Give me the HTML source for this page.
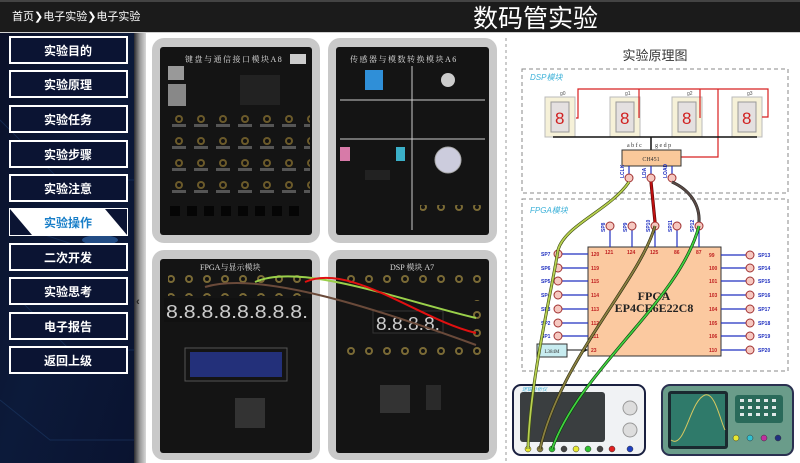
<!DOCTYPE html>
<html><head><meta charset="utf-8"><style>
html,body{margin:0;padding:0;width:800px;height:463px;overflow:hidden;background:#fff}
svg{display:block}
text{font-family:"Liberation Sans","Noto Sans CJK SC",sans-serif}
.serif{font-family:"Liberation Serif","Noto Serif CJK SC",serif}
</style></head><body>
<svg width="800" height="463" viewBox="0 0 800 463" xmlns="http://www.w3.org/2000/svg">
<defs>
<linearGradient id="side" x1="0" y1="0" x2="1" y2="1">
<stop offset="0" stop-color="#0a1028"/><stop offset="0.5" stop-color="#0c1a3a"/><stop offset="1" stop-color="#0a1330"/></linearGradient>
<linearGradient id="strip" x1="0" x2="1"><stop offset="0" stop-color="#2a2a2e"/><stop offset="0.5" stop-color="#9a9a9a"/><stop offset="1" stop-color="#d8d8d8"/></linearGradient>
<pattern id="jk" x="168" y="108" width="22" height="22" patternUnits="userSpaceOnUse"><circle cx="11" cy="11" r="4" fill="#6b5a2a"/><circle cx="11" cy="11" r="2" fill="#111"/><rect x="4" y="16" width="14" height="3" fill="#555"/></pattern>
<pattern id="jk2" width="18" height="18" patternUnits="userSpaceOnUse"><circle cx="9" cy="9" r="4" fill="#7a6a35"/><circle cx="9" cy="9" r="2" fill="#111"/></pattern>
</defs>

<!-- top bar -->
<rect x="0" y="0" width="800" height="32" fill="#1b1b1b"/>
<rect x="0" y="0" width="800" height="2" fill="#444"/>
<rect x="0" y="32" width="800" height="1" fill="#cfcfcf"/>
<text x="12" y="20" font-size="11" fill="#fff">首页❯电子实验❯电子实验</text>
<text x="473" y="27" font-size="25" fill="#fff">数码管实验</text>

<!-- sidebar -->
<rect x="0" y="33" width="134" height="430" fill="url(#side)"/>
<path d="M0 120 L60 180 L134 180 M20 300 L70 350 L134 350 M0 400 L50 440 L134 440 M30 230 L90 250" stroke="#1d3866" stroke-width="1" fill="none" opacity="0.6"/>
<ellipse cx="100" cy="240" rx="18" ry="5" fill="#3a7fd0" opacity="0.5"/>
<rect x="134" y="33" width="12" height="430" fill="url(#strip)"/>
<text x="136" y="305" font-size="11" fill="#222" font-weight="bold">‹</text>

<g fill="#0b1433" stroke="#fff" stroke-width="2">
<rect x="10" y="37" width="117" height="26"/>
<rect x="10" y="71" width="117" height="26"/>
<rect x="10" y="106" width="117" height="26"/>
<rect x="10" y="141" width="117" height="26"/>
<rect x="10" y="175" width="117" height="26"/>
<rect x="10" y="244" width="117" height="26"/>
<rect x="10" y="278" width="117" height="26"/>
<rect x="10" y="313" width="117" height="26"/>
<rect x="10" y="347" width="117" height="26"/>
</g>
<rect x="9" y="208" width="119" height="28" fill="#fff"/>
<path d="M10 209 L10 235 L32 235 Z" fill="#0b1433"/>
<path d="M105 209 L127 209 L127 235 Z" fill="#0b1433"/>
<g font-size="12" font-weight="bold" fill="#fff" text-anchor="middle">
<text x="68" y="55">实验目的</text>
<text x="68" y="89">实验原理</text>
<text x="68" y="124">实验任务</text>
<text x="68" y="159">实验步骤</text>
<text x="68" y="193">实验注意</text>
<text x="68" y="227" fill="#1a7fc8">实验操作</text>
<text x="68" y="262">二次开发</text>
<text x="68" y="296">实验思考</text>
<text x="68" y="331">电子报告</text>
<text x="68" y="365">返回上级</text>
</g>

<!-- photo panels -->
<g fill="#c9c9c9">
<rect x="152" y="38" width="168" height="205" rx="12"/>
<rect x="328" y="38" width="169" height="205" rx="12"/>
<rect x="152" y="250" width="168" height="210" rx="12"/>
<rect x="328" y="250" width="169" height="210" rx="12"/>
</g>
<g fill="#141414">
<rect x="160" y="47" width="152" height="188" rx="3"/>
<rect x="336" y="47" width="153" height="188" rx="3"/>
<rect x="160" y="259" width="152" height="194" rx="3"/>
<rect x="336" y="259" width="153" height="194" rx="3"/>
</g>
<!-- panel 1 -->
<text x="185" y="62" font-size="8" fill="#ddd" class="serif" letter-spacing="1.5">键盘与通信接口模块A8</text>
<rect x="290" y="54" width="16" height="10" fill="#ccc"/>
<rect x="168" y="66" width="16" height="14" fill="#999"/>
<rect x="168" y="84" width="18" height="22" fill="#888"/>
<rect x="240" y="75" width="40" height="30" fill="#222"/>
<rect x="168" y="108" width="142" height="92" fill="url(#jk)"/>
<g fill="#050505"><rect x="170" y="206" width="10" height="10"/><rect x="187" y="206" width="10" height="10"/><rect x="204" y="206" width="10" height="10"/><rect x="221" y="206" width="10" height="10"/><rect x="238" y="206" width="10" height="10"/><rect x="255" y="206" width="10" height="10"/><rect x="272" y="206" width="10" height="10"/><rect x="289" y="206" width="10" height="10"/></g>
<!-- panel 2 -->
<text x="350" y="62" font-size="8" fill="#ddd" class="serif" letter-spacing="1.5">传感器与模数转换模块A6</text>
<g stroke="#ccc" stroke-width="1"><line x1="340" y1="100" x2="485" y2="100"/><line x1="340" y1="139" x2="485" y2="139"/><line x1="412" y1="66" x2="412" y2="230"/></g>
<rect x="365" y="70" width="18" height="20" fill="#2f8fd8"/>
<circle cx="448" cy="80" r="7" fill="#ccc"/>
<rect x="340" y="147" width="10" height="14" fill="#d77aa8"/>
<rect x="396" y="147" width="9" height="14" fill="#3bb0c8"/>
<circle cx="448" cy="160" r="13" fill="#ccd" stroke="#aaa"/>
<rect x="365" y="170" width="25" height="10" fill="#222"/>
<rect x="420" y="205" width="65" height="8" fill="url(#jk2)"/>
<!-- panel 3 FPGA -->
<text x="200" y="270" font-size="8" fill="#ddd" class="serif">FPGA与显示模块</text>
<rect x="168" y="274" width="140" height="22" fill="url(#jk2)"/>
<rect x="164" y="298" width="148" height="24" fill="#111"/>
<text x="166" y="318" font-size="18" fill="#ccc" font-family="Liberation Mono,monospace" textLength="142" lengthAdjust="spacingAndGlyphs">8.8.8.8.8.8.8.8.</text>
<rect x="190" y="352" width="92" height="25" fill="#23307a"/>
<rect x="185" y="348" width="102" height="33" fill="none" stroke="#555"/>
<rect x="235" y="398" width="30" height="30" fill="#333"/>
<!-- panel 4 DSP -->
<text x="390" y="270" font-size="8" fill="#ddd" class="serif">DSP 模块  A7</text>
<rect x="345" y="274" width="140" height="18" fill="url(#jk2)"/>
<rect x="373" y="311" width="70" height="22" fill="#111" stroke="#333"/>
<text x="376" y="330" font-size="18" fill="#ccc" font-family="Liberation Mono,monospace" textLength="64" lengthAdjust="spacingAndGlyphs">8.8.8.8.</text>
<rect x="470" y="300" width="16" height="40" fill="url(#jk2)"/>
<rect x="345" y="346" width="140" height="18" fill="url(#jk2)"/>
<rect x="380" y="385" width="30" height="28" fill="#333"/>
<rect x="426" y="385" width="15" height="25" fill="#2a2a2a"/>
<!-- board wires -->
<path d="M255 282 C 300 262, 400 300, 476 318" stroke="#9ad04a" stroke-width="2" fill="none"/>
<path d="M305 282 C 350 262, 420 320, 476 333" stroke="#e01010" stroke-width="2" fill="none"/>
<path d="M205 287 C 260 270, 380 310, 476 345" stroke="#6a4a3a" stroke-width="2" fill="none"/>

<!-- dashed divider -->
<line x1="506" y1="38" x2="506" y2="463" stroke="#999" stroke-dasharray="3 3"/>

<!-- diagram -->
<text x="655" y="60" font-size="13" fill="#333" text-anchor="middle">实验原理图</text>
<rect x="522" y="69" width="266" height="124" fill="none" stroke="#888" stroke-dasharray="4 3"/>
<text x="530" y="80" font-size="8" fill="#3ab0d8" font-style="italic">DSP模块</text>
<g>
<rect x="545" y="97" width="30" height="40" fill="#f6f1d8" stroke="#bbb"/>
<rect x="610" y="97" width="30" height="40" fill="#f6f1d8" stroke="#bbb"/>
<rect x="672" y="97" width="30" height="40" fill="#f6f1d8" stroke="#bbb"/>
<rect x="732" y="97" width="30" height="40" fill="#f6f1d8" stroke="#bbb"/>
<g fill="#e4e0e0" stroke="#999"><rect x="551" y="102" width="18" height="30"/><rect x="616" y="102" width="18" height="30"/><rect x="678" y="102" width="18" height="30"/><rect x="738" y="102" width="18" height="30"/></g>
<g font-size="17" fill="#d02020" font-family="Liberation Mono,monospace"><text x="555" y="124">8</text><text x="620" y="124">8</text><text x="682" y="124">8</text><text x="742" y="124">8</text></g>
<g font-size="5" fill="#555"><text x="560" y="95">g0</text><text x="625" y="95">g1</text><text x="687" y="95">g2</text><text x="747" y="95">g3</text></g>
</g>
<path d="M576 118 L578 118 L578 89 L768 89 L768 117 L762 117 M639 118 L639 89 M700 118 L700 89 M718 89 L718 157 L681 157" stroke="#d82020" stroke-width="1.2" fill="none"/>
<line x1="553" y1="137" x2="757" y2="137" stroke="#111" stroke-width="1.5"/>
<line x1="651" y1="137" x2="651" y2="150" stroke="#111" stroke-width="1.5"/>
<text x="627" y="147" font-size="6" fill="#333" class="serif">a b f c</text>
<text x="655" y="147" font-size="6" fill="#333" class="serif">g e d p</text>
<rect x="622" y="150" width="59" height="16" fill="#f9c89a" stroke="#333"/>
<text x="651" y="161" font-size="6" fill="#333" text-anchor="middle" class="serif">CH451</text>
<g stroke="#2030c0" stroke-width="1.2"><line x1="629" y1="166" x2="629" y2="174"/><line x1="651" y1="166" x2="651" y2="174"/><line x1="672" y1="166" x2="672" y2="174"/></g>
<g font-size="5" fill="#2030c0" class="serif" font-weight="bold">
<text transform="translate(624,178) rotate(-90)">LCLK</text>
<text transform="translate(646,178) rotate(-90)">LDA</text>
<text transform="translate(667,178) rotate(-90)">LOAD</text></g>
<g fill="#f6c8c0" stroke="#a03030"><circle cx="629" cy="178" r="4"/><circle cx="651" cy="178" r="4"/><circle cx="672" cy="178" r="4"/></g>

<rect x="522" y="199" width="266" height="172" fill="none" stroke="#888" stroke-dasharray="4 3"/>
<text x="530" y="213" font-size="8" fill="#3ab0d8" font-style="italic">FPGA模块</text>
<rect x="588" y="247" width="133" height="109" fill="#fbc9a0" stroke="#333"/>
<g stroke="#2030c0" stroke-width="1.2">
<line x1="610" y1="230" x2="610" y2="247"/><line x1="632" y1="230" x2="632" y2="247"/><line x1="655" y1="230" x2="655" y2="247"/><line x1="677" y1="230" x2="677" y2="247"/><line x1="699" y1="230" x2="699" y2="247"/>
<line x1="562" y1="254" x2="588" y2="254"/><line x1="562" y1="268" x2="588" y2="268"/><line x1="562" y1="281" x2="588" y2="281"/><line x1="562" y1="295" x2="588" y2="295"/><line x1="562" y1="309" x2="588" y2="309"/><line x1="562" y1="323" x2="588" y2="323"/><line x1="562" y1="336" x2="588" y2="336"/>
<line x1="721" y1="255" x2="746" y2="255"/><line x1="721" y1="268" x2="746" y2="268"/><line x1="721" y1="281" x2="746" y2="281"/><line x1="721" y1="295" x2="746" y2="295"/><line x1="721" y1="309" x2="746" y2="309"/><line x1="721" y1="323" x2="746" y2="323"/><line x1="721" y1="336" x2="746" y2="336"/><line x1="721" y1="350" x2="746" y2="350"/>
</g>
<g fill="#f6c8c0" stroke="#a03030">
<circle cx="610" cy="226" r="4"/><circle cx="632" cy="226" r="4"/><circle cx="655" cy="226" r="4"/><circle cx="677" cy="226" r="4"/><circle cx="699" cy="226" r="4"/>
<circle cx="558" cy="254" r="4"/><circle cx="558" cy="268" r="4"/><circle cx="558" cy="281" r="4"/><circle cx="558" cy="295" r="4"/><circle cx="558" cy="309" r="4"/><circle cx="558" cy="323" r="4"/><circle cx="558" cy="336" r="4"/>
<circle cx="750" cy="255" r="4"/><circle cx="750" cy="268" r="4"/><circle cx="750" cy="281" r="4"/><circle cx="750" cy="295" r="4"/><circle cx="750" cy="309" r="4"/><circle cx="750" cy="323" r="4"/><circle cx="750" cy="336" r="4"/><circle cx="750" cy="350" r="4"/>
</g>
<g font-size="5" fill="#2030c0" class="serif" font-weight="bold">
<text transform="translate(605,232) rotate(-90)">SP8</text><text transform="translate(627,232) rotate(-90)">SP9</text><text transform="translate(650,232) rotate(-90)">SP10</text><text transform="translate(672,232) rotate(-90)">SP11</text><text transform="translate(694,232) rotate(-90)">SP12</text>
<text x="541" y="256">SP7</text><text x="541" y="270">SP6</text><text x="541" y="283">SP5</text><text x="541" y="297">SP4</text><text x="541" y="311">SP3</text><text x="541" y="325">SP2</text><text x="541" y="338">SP1</text>
<text x="758" y="257">SP13</text><text x="758" y="270">SP14</text><text x="758" y="283">SP15</text><text x="758" y="297">SP16</text><text x="758" y="311">SP17</text><text x="758" y="325">SP18</text><text x="758" y="338">SP19</text><text x="758" y="352">SP20</text>
</g>
<g font-size="5" fill="#c02020" class="serif" font-weight="bold">
<text x="605" y="254">121</text><text x="627" y="254">124</text><text x="650" y="254">125</text><text x="674" y="254">86</text><text x="696" y="254">87</text>
<text x="591" y="256">120</text><text x="591" y="270">119</text><text x="591" y="283">115</text><text x="591" y="297">114</text><text x="591" y="311">113</text><text x="591" y="325">112</text><text x="591" y="338">111</text><text x="591" y="352">23</text>
<text x="709" y="257">99</text><text x="709" y="270">100</text><text x="709" y="283">101</text><text x="709" y="297">103</text><text x="709" y="311">104</text><text x="709" y="325">105</text><text x="709" y="338">106</text><text x="709" y="352">110</text>
</g>
<text x="654" y="300" font-size="12" fill="#222" font-weight="bold" text-anchor="middle" class="serif">FPGA</text>
<text x="654" y="312" font-size="12" fill="#222" font-weight="bold" text-anchor="middle" class="serif">EP4CE6E22C8</text>
<rect x="537" y="344" width="30" height="13" fill="#c8ecf0" stroke="#333"/>
<text x="552" y="353" font-size="5" fill="#333" text-anchor="middle" class="serif">L384M</text>
<line x1="567" y1="350" x2="586" y2="350" stroke="#111"/><path d="M588 350 L583 347.5 L583 352.5Z" fill="#111"/>

<!-- instruments -->
<rect x="513" y="385" width="132" height="70" rx="8" fill="#f0f2f4" stroke="#1a2040" stroke-width="2"/>
<rect x="520" y="392" width="85" height="50" rx="3" fill="#3a3e40"/>
<text x="522" y="391" font-size="5" fill="#3ab0d8" font-style="italic">逻辑分析仪</text>
<circle cx="630" cy="408" r="7" fill="#ddd" stroke="#999"/><circle cx="630" cy="430" r="7" fill="#ddd" stroke="#999"/>
<g stroke="#333" stroke-width="0.5"><circle cx="528" cy="449" r="3" fill="#e8e830"/><circle cx="540" cy="449" r="3" fill="#8a8040"/><circle cx="552" cy="449" r="3" fill="#30c030"/><circle cx="564" cy="449" r="3" fill="#444"/><circle cx="576" cy="449" r="3" fill="#e8e830"/><circle cx="588" cy="449" r="3" fill="#30c030"/><circle cx="600" cy="449" r="3" fill="#444"/><circle cx="612" cy="449" r="3" fill="#e02020"/><circle cx="630" cy="449" r="3" fill="#2040c0"/></g>
<rect x="662" y="385" width="131" height="70" rx="8" fill="#6a9c8a" stroke="#2a3050" stroke-width="2"/>
<rect x="668" y="391" width="60" height="58" rx="3" fill="#1a2a30"/>
<rect x="671" y="394" width="54" height="52" fill="#2f7a6a"/>
<path d="M671 440 C 685 450, 690 400, 705 395 C 715 392, 720 420, 725 430" stroke="#d8c860" stroke-width="1" fill="none"/>
<rect x="735" y="395" width="48" height="28" rx="3" fill="#2a6a5a"/>
<g fill="#e0e8e8"><rect x="740" y="399" width="4" height="3"/><rect x="748" y="399" width="4" height="3"/><rect x="756" y="399" width="4" height="3"/><rect x="764" y="399" width="4" height="3"/><rect x="772" y="399" width="4" height="3"/><rect x="740" y="406" width="4" height="3"/><rect x="748" y="406" width="4" height="3"/><rect x="756" y="406" width="4" height="3"/><rect x="764" y="406" width="4" height="3"/><rect x="772" y="406" width="4" height="3"/><rect x="740" y="413" width="4" height="3"/><rect x="748" y="413" width="4" height="3"/><rect x="756" y="413" width="4" height="3"/><rect x="764" y="413" width="4" height="3"/><rect x="772" y="413" width="4" height="3"/></g>
<g stroke="#333" stroke-width="0.5"><circle cx="736" cy="438" r="3" fill="#e8e830"/><circle cx="750" cy="438" r="3" fill="#30c0d0"/><circle cx="764" cy="438" r="3" fill="#c030a0"/><circle cx="778" cy="438" r="3" fill="#203080"/></g>

<!-- diagram wires -->
<path d="M629 182 C 610 210, 565 225, 558 250 C 552 290, 530 380, 528 449" stroke="#3a4a10" stroke-width="3" fill="none"/>
<path d="M629 182 C 610 210, 565 225, 558 250 C 552 290, 530 380, 528 449" stroke="#b8d050" stroke-width="1.8" fill="none"/>
<path d="M651 182 L655 222" stroke="#500" stroke-width="3.2" fill="none"/>
<path d="M651 182 L655 222" stroke="#c01010" stroke-width="2" fill="none"/>
<path d="M655 226 C 640 280, 560 360, 540 449" stroke="#2a2a10" stroke-width="3" fill="none"/>
<path d="M655 226 C 640 280, 560 360, 540 449" stroke="#8a8040" stroke-width="1.8" fill="none"/>
<path d="M672 182 C 690 190, 700 205, 699 222" stroke="#222" stroke-width="3" fill="none"/>
<path d="M672 182 C 690 190, 700 205, 699 222" stroke="#5a4a45" stroke-width="2" fill="none"/>
<path d="M699 226 C 680 300, 580 370, 552 449" stroke="#0a3a0a" stroke-width="3" fill="none"/>
<path d="M699 226 C 680 300, 580 370, 552 449" stroke="#40d040" stroke-width="1.8" fill="none"/>
</svg>
</body></html>
